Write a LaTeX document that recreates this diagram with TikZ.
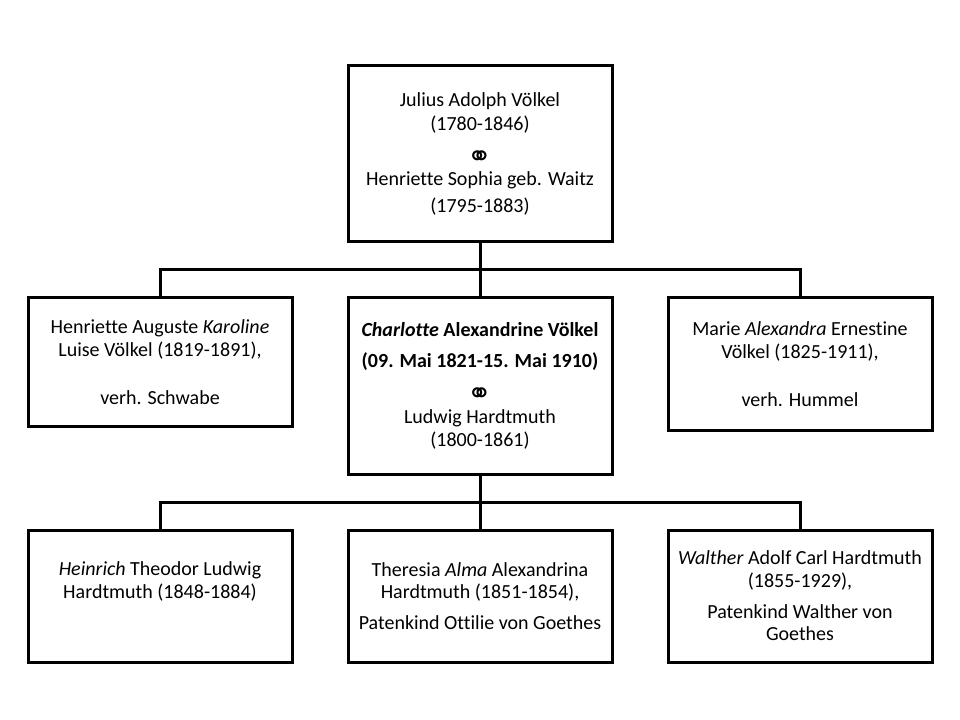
\documentclass[tikz,border=0pt]{standalone}
\usepackage{fontspec}
\setmainfont{Carlito}[Ligatures=CommonOff]
\newfontfamily\ringfont{DejaVu Sans}
\usetikzlibrary{positioning}
\newcommand{\ringe}{\raisebox{-4.5pt}[9pt][2pt]{\ringfont\fontsize{22}{17}\selectfont ⚭}}
\tikzset{
  person/.style={draw, line width=2.25pt, minimum width=198pt, inner sep=0pt,
    align=center, font=\fontsize{15}{17}\selectfont},
  link/.style={line width=2.25pt}
}
\begin{document}
\begin{tikzpicture}[x=0.75pt, y=-0.75pt]
      \useasboundingbox (0,0) rectangle (960,720);
      % Genitori
      \node[person, minimum height=132pt] (eltern) at (480,154) {Julius Adolph Völkel\\[1pt](1780-1846)\\[5pt]\ringe\\[2pt]Henriette Sophia geb. Waitz\\[3pt](1795-1883)};

      % Figli
      \node[person, minimum height=96pt] (karoline) at (160,362) {Henriette Auguste \textit{Karoline}\\Luise Völkel (1819-1891),\\[19pt]verh. Schwabe};
      \node[person, minimum height=132pt] (charlotte) at (480,386) {\textbf{\textit{Charlotte} Alexandrine Völkel}\\[6pt]\textbf{(09. Mai 1821-15. Mai 1910)}\\[5.5pt]\ringe\\[3pt]Ludwig Hardtmuth\\(1800-1861)};
      \node[person, minimum height=99pt] (alexandra) at (800,364) {Marie \textit{Alexandra} Ernestine\\Völkel (1825-1911),\\[19pt]verh. Hummel};

      % Nipoti
      \node[person, minimum height=99pt] (heinrich) at (160,596) {\textit{Heinrich} Theodor Ludwig\\Hardtmuth (1848-1884)\\[7pt]\mbox{}};
      \node[person, minimum height=99pt] (alma) at (480,596) {Theresia \textit{Alma} Alexandrina\\Hardtmuth (1851-1854),\\[6pt]Patenkind Ottilie von Goethes};
      \node[person, minimum height=99pt] (walther) at (800,596) {\textit{Walther} Adolf Carl Hardtmuth\\(1855-1929),\\[6pt]Patenkind Walther von\\Goethes};

      % Collegamenti
      \coordinate (j1) at (480,270);
      \coordinate (j2) at (480,502);
      \draw[link] (karoline.north) |- (j1) -| (alexandra.north);
      \draw[link] (eltern) -- (charlotte);
      \draw[link] (heinrich.north) |- (j2) -| (walther.north);
      \draw[link] (charlotte) -- (alma);
    \end{tikzpicture}
\end{document}
